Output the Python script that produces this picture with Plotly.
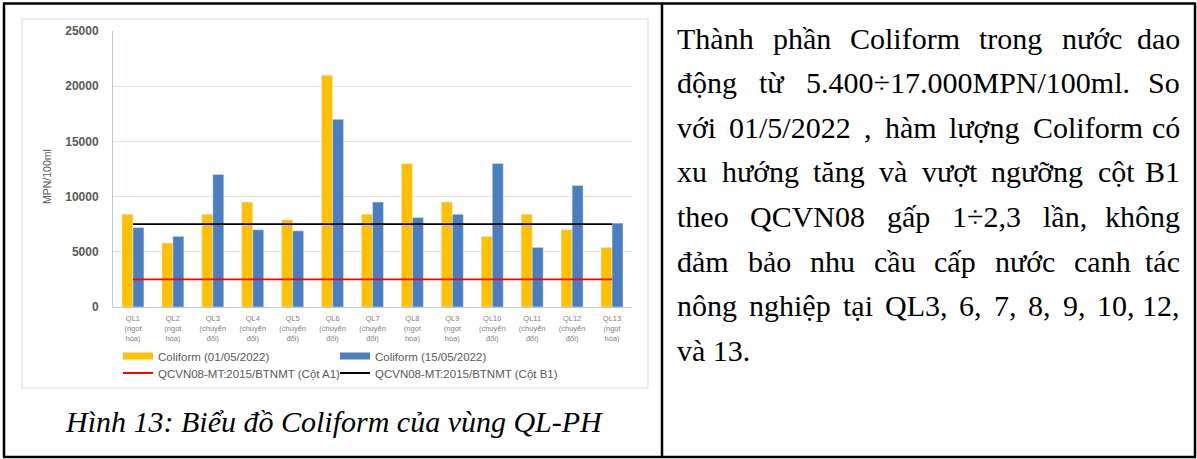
import unicodedata
import plotly.graph_objects as go

# ---------------- data ----------------
categories = ["QL1", "QL2", "QL3", "QL4", "QL5", "QL6", "QL7",
              "QL8", "QL9", "QL10", "QL11", "QL12", "QL13"]
zone_types = ["ngọt hóa", "ngọt hóa", "chuyển đổi", "chuyển đổi", "chuyển đổi",
              "chuyển đổi", "chuyển đổi", "ngọt hóa", "ngọt hóa", "chuyển đổi",
              "chuyển đổi", "chuyển đổi", "ngọt hóa"]
coliform_0105 = [8400, 5800, 8400, 9500, 7900, 21000, 8400, 13000, 9500, 6400, 8400, 7000, 5400]
coliform_1505 = [7200, 6400, 12000, 7000, 6900, 17000, 9500, 8100, 8400, 13000, 5400, 11000, 7600]
limit_a1 = [2500] * len(categories)
limit_b1 = [7500] * len(categories)
y_ticks = [0, 5000, 10000, 15000, 20000, 25000]

series_names = ["Coliform (01/05/2022)", "Coliform (15/05/2022)",
                "QCVN08-MT:2015/BTNMT (Cột A1)", "QCVN08-MT:2015/BTNMT (Cột B1)"]
y_title = "MPN/100ml"
caption = "Hình 13: Biểu đồ Coliform của vùng QL-PH"
body_lines = [
    "Thành phần Coliform trong nước dao",
    "động từ 5.400÷17.000MPN/100ml. So",
    "với 01/5/2022 , hàm lượng Coliform có",
    "xu hướng tăng và vượt ngưỡng cột B1",
    "theo QCVN08 gấp 1÷2,3 lần, không",
    "đảm bảo nhu cầu cấp nước canh tác",
    "nông nghiệp tại QL3, 6, 7, 8, 9, 10, 12,",
    "và 13.",
]

tick_labels = []
for c, t in zip(categories, zone_types):
    a, b = t.split()
    tick_labels.append(f"{c}<br>({a}<br>{b})")

# ---------------- geometry helpers ----------------
W, H = 1197, 459
ML, MR, MT, MB = 113, 565, 31, 152
PW, PH = W - ML - MR, H - MT - MB


def px(x):
    return (x - ML) / PW


def py(y):
    return (H - MB - y) / PH


YELLOW = "#FFC000"
BLUE = "#4A7EBF"
GREY = "#595959"

fig = go.Figure()
fig.add_trace(go.Bar(x=categories, y=coliform_0105, name=series_names[0],
                     marker_color=YELLOW, showlegend=False))
fig.add_trace(go.Bar(x=categories, y=coliform_1505, name=series_names[1],
                     marker_color=BLUE, showlegend=False))
# legend proxies (wide swatches like the original)
fig.add_trace(go.Scatter(x=[None], y=[None], mode="lines", name=series_names[0],
                         line=dict(color=YELLOW, width=7), legend="legend",
                         legendwidth=172))
fig.add_trace(go.Scatter(x=[None], y=[None], mode="lines", name=series_names[1],
                         line=dict(color=BLUE, width=7), legend="legend",
                         legendwidth=200))
fig.add_trace(go.Scatter(x=categories, y=limit_a1, mode="lines", name=series_names[2],
                         line=dict(color="#FF0000", width=1.8), legend="legend2",
                         legendwidth=172))
fig.add_trace(go.Scatter(x=categories, y=limit_b1, mode="lines", name=series_names[3],
                         line=dict(color="#000000", width=1.8), legend="legend2",
                         legendwidth=200))

legend_common = dict(orientation="h", xanchor="left", yanchor="middle",
                     font=dict(family="Liberation Sans", size=11.5, color=GREY),
                     bgcolor="rgba(0,0,0,0)", tracegroupgap=0)

fig.update_layout(
    width=W, height=H,
    margin=dict(l=ML, r=MR, t=MT, b=MB, pad=0),
    paper_bgcolor="white", plot_bgcolor="white",
    barmode="group", bargap=0.45, bargroupgap=0,
    legend=dict(x=px(118), y=py(356), **legend_common),
    legend2=dict(x=px(118), y=py(373), **legend_common),
    xaxis=dict(type="category", tickmode="array", tickvals=categories, ticktext=tick_labels,
               tickfont=dict(family="Liberation Sans", size=7.5, color="#7F7F7F"),
               showline=True, linecolor="#B4C7E7", linewidth=1, showgrid=False,
               ticks="", ticklabelstandoff=4, fixedrange=True),
    yaxis=dict(range=[0, 25000], tickmode="array", tickvals=y_ticks, tickformat="d",
               tickfont=dict(family="Liberation Sans", size=12, color=GREY, weight="bold"),
               showgrid=True, gridcolor="#E3E3E3", gridwidth=1, zeroline=False,
               showline=True, linecolor="#B4C7E7", linewidth=1,
               ticks="", ticklabelstandoff=11, fixedrange=True),
)

shapes = []
# chart frame
shapes.append(dict(type="rect", xref="paper", yref="paper",
                   x0=px(22), x1=px(648), y0=py(388), y1=py(19),
                   line=dict(color="#D9D9D9", width=1), layer="below"))


def hline(y, x0, x1):
    return dict(type="line", xref="paper", yref="paper", x0=px(x0), x1=px(x1),
                y0=py(y), y1=py(y), line=dict(color="black", width=2.5))


def vline(x, y0, y1):
    return dict(type="line", xref="paper", yref="paper", x0=px(x), x1=px(x),
                y0=py(y0), y1=py(y1), line=dict(color="black", width=2.5))


shapes += [hline(3.5, 3, 1196), hline(457, 3, 1196),
           vline(4, 3, 457), vline(1195, 3, 457), vline(662, 3, 457)]
fig.update_layout(shapes=shapes)

annotations = []
annotations.append(dict(xref="paper", yref="paper", x=px(47), y=py(177),
                        text=y_title, textangle=-90, showarrow=False,
                        font=dict(family="Liberation Sans", size=10.5, color=GREY),
                        xanchor="center", yanchor="middle"))
annotations.append(dict(xref="paper", yref="paper", x=px(334), y=py(421),
                        text=caption, showarrow=False,
                        font=dict(family="Liberation Serif", size=30, color="black",
                                  style="italic"),
                        xanchor="center", yanchor="middle"))

# Times New Roman advance widths (per 1000 em)
TNR = {" ": 250, ",": 250, ".": 250, "/": 278, ":": 278, "÷": 549, "(": 333, ")": 333,
       "A": 722, "B": 667, "C": 667, "D": 722, "E": 611, "F": 556, "G": 722, "H": 722,
       "I": 333, "J": 389, "K": 722, "L": 611, "M": 889, "N": 722, "O": 722, "P": 556,
       "Q": 722, "R": 667, "S": 556, "T": 611, "U": 722, "V": 722, "W": 944, "X": 722,
       "Y": 722, "Z": 611,
       "a": 444, "b": 500, "c": 444, "d": 500, "e": 444, "f": 333, "g": 500, "h": 500,
       "i": 278, "j": 278, "k": 500, "l": 278, "m": 778, "n": 500, "o": 500, "p": 500,
       "q": 500, "r": 333, "s": 389, "t": 278, "u": 500, "v": 500, "w": 722, "x": 500,
       "y": 500, "z": 444, "đ": 500, "Đ": 722}
for d in "0123456789":
    TNR[d] = 500

FS = 30


def text_width(s, fs):
    total = 0
    for ch in unicodedata.normalize("NFD", s):
        if unicodedata.combining(ch):
            if ch == "\u031b":
                total += 30
            continue
        total += TNR.get(ch, 500)
    return total * fs / 1000


X0, X1 = 675, 1182
Y_FIRST, Y_STEP = 38, 44.6
body_font = dict(family="Liberation Serif", size=FS, color="black")
for i, line in enumerate(body_lines):
    yc = Y_FIRST + i * Y_STEP
    if i == len(body_lines) - 1:
        annotations.append(dict(xref="paper", yref="paper", x=px(X0), y=py(yc), text=line,
                                showarrow=False, font=body_font,
                                xanchor="left", yanchor="middle"))
        continue
    words = line.split(" ")
    widths = [text_width(w, FS) for w in words]
    gap = (X1 - X0 - sum(widths)) / (len(words) - 1)
    xcur = X0
    for j, (w, wd) in enumerate(zip(words, widths)):
        if j == len(words) - 1:
            annotations.append(dict(xref="paper", yref="paper", x=px(X1), y=py(yc), text=w,
                                    showarrow=False, font=body_font,
                                    xanchor="right", yanchor="middle"))
        else:
            annotations.append(dict(xref="paper", yref="paper", x=px(xcur), y=py(yc), text=w,
                                    showarrow=False, font=body_font,
                                    xanchor="left", yanchor="middle"))
        xcur += wd + gap

fig.update_layout(annotations=annotations)

fig.write_html("out.html", config={"displayModeBar": False},
               post_script="document.body.style.margin='0';document.body.style.overflow='hidden';")
